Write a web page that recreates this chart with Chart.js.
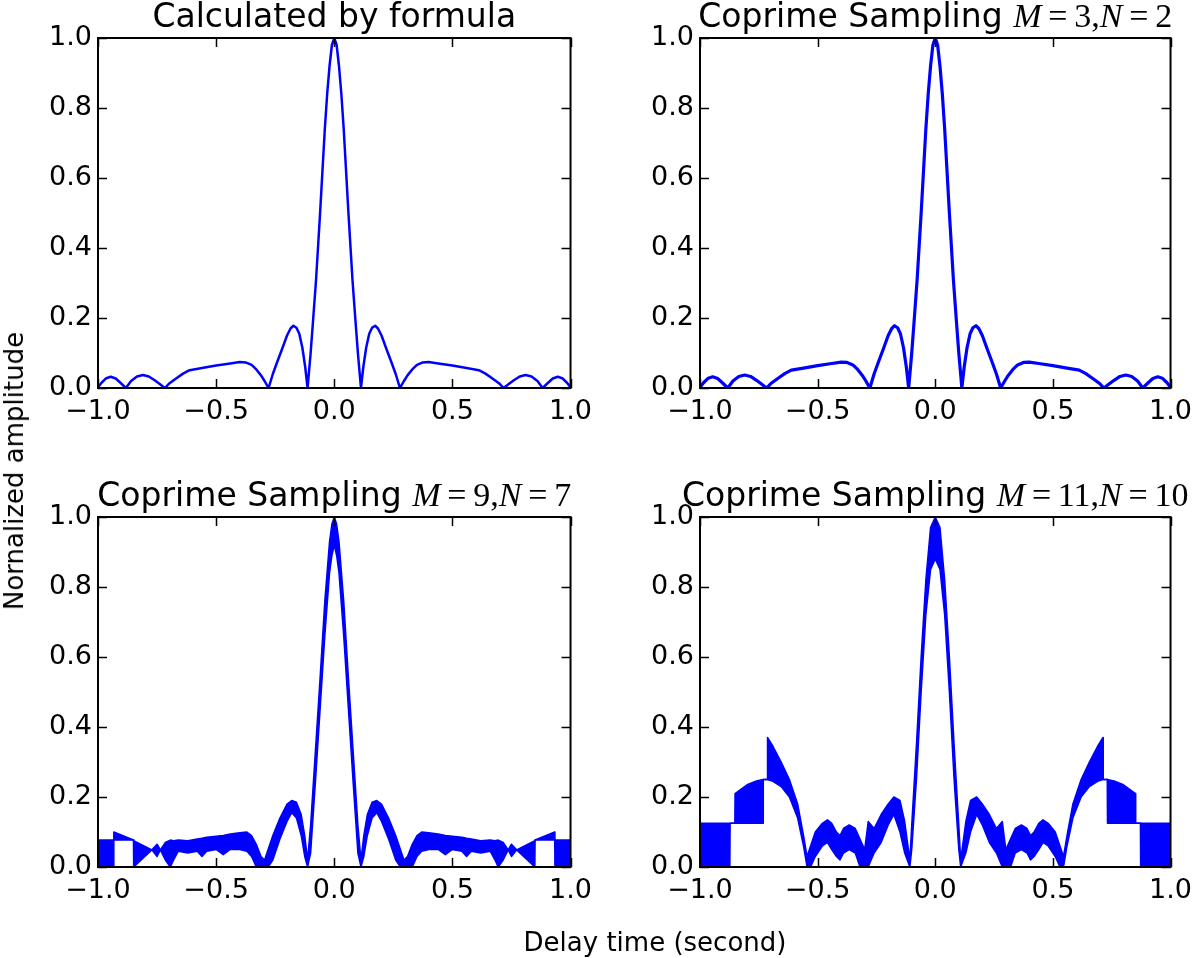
<!DOCTYPE html>
<html>
<head>
<meta charset="utf-8">
<script src="https://cdn.jsdelivr.net/npm/chart.js@4/dist/chart.umd.min.js"></script>
<style>
  body { margin: 0; width: 1200px; height: 958px; background: #fff; position: relative; overflow: hidden; font-family: "DejaVu Sans", sans-serif; }
  canvas { position: absolute; }
  .label { position: absolute; font-size: 26px; color: #000; white-space: nowrap; }
  #ylabel { left: 14px; top: 471px; transform: translate(-50%, -50%) rotate(-90deg); }
  #xlabel { left: 655px; top: 942px; transform: translate(-50%, -50%); }
</style>
</head>
<body>
<canvas id="c1" width="600" height="440" style="left:0;top:0"></canvas>
<canvas id="c2" width="600" height="440" style="left:600px;top:0"></canvas>
<canvas id="c3" width="600" height="470" style="left:0;top:470px"></canvas>
<canvas id="c4" width="600" height="470" style="left:600px;top:470px"></canvas>
<div class="label" id="ylabel">Nornalized amplitude</div>
<div class="label" id="xlabel">Delay time (second)</div>
<script>
const tickX = [-1.0, -0.5, 0.0, 0.5, 1.0];
const tickY = [0.0, 0.2, 0.4, 0.6, 0.8, 1.0];

// "Calculated by formula" (the M=3,N=2 panel shows the same curve)
const formulaX = [-1.0, -0.985, -0.965, -0.946, -0.925, -0.905, -0.882, -0.86, -0.835, -0.81,
  -0.785, -0.76, -0.74, -0.717, -0.70, -0.668, -0.64, -0.612, -0.56, -0.50,
  -0.44, -0.40, -0.375, -0.35, -0.33, -0.31, -0.295, -0.278, -0.26, -0.24,
  -0.22, -0.20, -0.185, -0.173, -0.16, -0.148, -0.135, -0.123, -0.113, -0.10,
  -0.09, -0.077, -0.06, -0.04, -0.03, -0.02, -0.01, 0,
  0.01, 0.02, 0.03, 0.04, 0.06, 0.077, 0.09, 0.10, 0.113, 0.123,
  0.135, 0.148, 0.16, 0.173, 0.185, 0.20, 0.22, 0.24, 0.26, 0.278,
  0.295, 0.31, 0.33, 0.35, 0.375, 0.40, 0.44, 0.50, 0.56, 0.612,
  0.64, 0.668, 0.70, 0.717, 0.74, 0.76, 0.785, 0.81, 0.835, 0.86,
  0.882, 0.905, 0.925, 0.946, 0.965, 0.985, 1.0];
const formulaY = [0.002, 0.015, 0.028, 0.032, 0.027, 0.015, 0, 0.020, 0.033, 0.037,
  0.033, 0.022, 0.012, 0, 0.012, 0.028, 0.041, 0.051, 0.057, 0.064,
  0.070, 0.074, 0.073, 0.066, 0.053, 0.036, 0.020, 0, 0.040, 0.077,
  0.113, 0.150, 0.170, 0.178, 0.172, 0.155, 0.115, 0.060, 0, 0.10,
  0.19, 0.31, 0.50, 0.74, 0.84, 0.92, 0.98, 1.0,
  0.98, 0.92, 0.84, 0.74, 0.50, 0.31, 0.19, 0.10, 0, 0.060,
  0.115, 0.155, 0.172, 0.178, 0.170, 0.150, 0.113, 0.077, 0.040, 0,
  0.020, 0.036, 0.053, 0.066, 0.073, 0.074, 0.070, 0.064, 0.057, 0.051,
  0.041, 0.028, 0.012, 0, 0.012, 0.022, 0.033, 0.037, 0.033, 0.020,
  0, 0.015, 0.027, 0.032, 0.028, 0.015, 0.002];

// M=9, N=7: lower and upper edge of the dense oscillation
const m9n7X = [-1.0, -0.934, -0.933, -0.85, -0.849, -0.772, -0.75, -0.736, -0.715, -0.694,
  -0.68, -0.66, -0.62, -0.58, -0.56, -0.54, -0.50, -0.47, -0.44, -0.40,
  -0.37, -0.35, -0.33, -0.31, -0.295, -0.28, -0.26, -0.23, -0.20, -0.18,
  -0.16, -0.14, -0.125, -0.113, -0.10, -0.08, -0.06, -0.04, -0.02, -0.01, 0,
  0.01, 0.02, 0.04, 0.06, 0.08, 0.10, 0.113, 0.125, 0.14, 0.16,
  0.18, 0.20, 0.23, 0.26, 0.28, 0.295, 0.31, 0.33, 0.35, 0.37,
  0.40, 0.44, 0.47, 0.50, 0.54, 0.56, 0.58, 0.62, 0.66, 0.68,
  0.694, 0.715, 0.736, 0.75, 0.772, 0.849, 0.85, 0.933, 0.934, 1.0];
const m9n7Low = [0, 0, 0.077, 0.077, 0, 0.049, 0.030, 0.049, 0.020, 0,
  0.020, 0.045, 0.040, 0.045, 0.030, 0.045, 0.050, 0.035, 0.050, 0.050,
  0.045, 0.030, 0, 0, 0, 0, 0.020, 0.080, 0.130, 0.155,
  0.140, 0.090, 0.030, 0, 0.04, 0.24, 0.45, 0.66, 0.84, 0.89, 0.92,
  0.89, 0.84, 0.66, 0.45, 0.24, 0.04, 0, 0.030, 0.090, 0.140,
  0.155, 0.130, 0.080, 0.020, 0, 0, 0, 0, 0.030, 0.045,
  0.050, 0.050, 0.035, 0.050, 0.045, 0.030, 0.045, 0.040, 0.045, 0.020,
  0, 0.020, 0.049, 0.030, 0.049, 0, 0.077, 0.077, 0, 0];
const m9n7High = [0.077, 0.077, 0.100, 0.077, 0.075, 0.049, 0.065, 0.049, 0.070, 0.077,
  0.075, 0.077, 0.075, 0.080, 0.082, 0.085, 0.088, 0.090, 0.094, 0.098,
  0.100, 0.090, 0.065, 0.030, 0.020, 0.050, 0.090, 0.140, 0.180, 0.190,
  0.185, 0.150, 0.090, 0.020, 0.12, 0.33, 0.54, 0.76, 0.93, 0.98, 1.0,
  0.98, 0.93, 0.76, 0.54, 0.33, 0.12, 0.020, 0.090, 0.150, 0.185,
  0.190, 0.180, 0.140, 0.090, 0.050, 0.020, 0.030, 0.065, 0.090, 0.100,
  0.098, 0.094, 0.090, 0.088, 0.085, 0.082, 0.080, 0.075, 0.077, 0.075,
  0.077, 0.070, 0.049, 0.065, 0.049, 0.075, 0.077, 0.100, 0.077, 0.077];

// M=11, N=10: lower and upper edge of the dense oscillation
const m11n10X = [-1.0, -0.873, -0.872, -0.852, -0.851, -0.80, -0.76, -0.732, -0.731, -0.714,
  -0.713, -0.69, -0.655, -0.62, -0.585, -0.56, -0.545, -0.53, -0.51, -0.48,
  -0.458, -0.44, -0.42, -0.405, -0.39, -0.366, -0.34, -0.32, -0.30, -0.285,
  -0.26, -0.23, -0.20, -0.176, -0.15, -0.13, -0.108, -0.10, -0.08, -0.06,
  -0.04, -0.02, 0,
  0.02, 0.04, 0.06, 0.08, 0.10, 0.108, 0.13, 0.15, 0.176, 0.20,
  0.23, 0.26, 0.285, 0.30, 0.32, 0.34, 0.366, 0.39, 0.405, 0.42,
  0.44, 0.458, 0.48, 0.51, 0.53, 0.545, 0.56, 0.585, 0.62, 0.655,
  0.69, 0.713, 0.714, 0.731, 0.732, 0.76, 0.80, 0.851, 0.852, 0.872, 0.873, 1.0];
const m11n10Low = [0, 0, 0.125, 0.125, 0.125, 0.125, 0.125, 0.125, 0.25, 0.25,
  0.25, 0.245, 0.23, 0.20, 0.14, 0.06, 0, 0, 0.03, 0.06,
  0.07, 0.05, 0.03, 0.02, 0.04, 0.05, 0.04, 0, 0, 0,
  0.04, 0.07, 0.12, 0.15, 0.10, 0.04, 0, 0.05, 0.25, 0.50,
  0.72, 0.85, 0.88,
  0.85, 0.72, 0.50, 0.25, 0.05, 0, 0.04, 0.10, 0.15, 0.12,
  0.07, 0.04, 0, 0, 0, 0.04, 0.05, 0.04, 0.02, 0.03,
  0.05, 0.07, 0.06, 0.03, 0, 0, 0.06, 0.14, 0.20, 0.23,
  0.245, 0.25, 0.25, 0.25, 0.125, 0.125, 0.125, 0.125, 0.125, 0.125, 0, 0];
const m11n10High = [0.125, 0.125, 0.125, 0.125, 0.21, 0.235, 0.246, 0.25, 0.25, 0.25,
  0.37, 0.345, 0.30, 0.25, 0.18, 0.09, 0.03, 0.06, 0.10, 0.125,
  0.135, 0.125, 0.10, 0.09, 0.11, 0.12, 0.11, 0.08, 0.05, 0.13,
  0.11, 0.15, 0.18, 0.20, 0.19, 0.13, 0.02, 0.12, 0.35, 0.60,
  0.82, 0.97, 1.0,
  0.97, 0.82, 0.60, 0.35, 0.12, 0.02, 0.13, 0.19, 0.20, 0.18,
  0.15, 0.11, 0.13, 0.05, 0.08, 0.11, 0.12, 0.11, 0.09, 0.10,
  0.125, 0.135, 0.125, 0.10, 0.06, 0.03, 0.09, 0.18, 0.25, 0.30,
  0.345, 0.37, 0.25, 0.25, 0.25, 0.246, 0.235, 0.21, 0.125, 0.125, 0.125, 0.125];

const BLUE = '#0000ff';
const TICK_FONT = { family: 'DejaVu Sans', size: 27 };
const SANS = '33px "DejaVu Sans"';
const MATH = '34px "Liberation Serif"';
const MATH_IT = 'italic 34px "Liberation Serif"';

const pts = (xs, ys) => xs.map((x, i) => ({ x, y: ys[i] }));
const fmt = v => Number(v).toFixed(1).replace('-', '\u2212');

function coprimeTitle(m, n) {
  return [
    ['Coprime Sampling ', SANS],
    ['M', MATH_IT], ['\u2009=\u2009' + m + ',', MATH],
    ['N', MATH_IT], ['\u2009=\u2009' + n, MATH]
  ];
}

// box, inward ticks on all four sides, and a title that mixes fonts
const framePlugin = {
  id: 'frame',
  afterDatasetsDraw(chart, args, opts) {
    const { ctx, chartArea: a, scales: { x, y } } = chart;
    ctx.save();
    ctx.strokeStyle = '#000';
    ctx.lineWidth = 1.5;
    ctx.beginPath();
    tickX.forEach(v => {
      const px = Math.round(x.getPixelForValue(v)) + 0.5;
      ctx.moveTo(px, a.bottom); ctx.lineTo(px, a.bottom - 9);
      ctx.moveTo(px, a.top); ctx.lineTo(px, a.top + 9);
    });
    tickY.forEach(v => {
      const py = Math.round(y.getPixelForValue(v)) + 0.5;
      ctx.moveTo(a.left, py); ctx.lineTo(a.left + 9, py);
      ctx.moveTo(a.right, py); ctx.lineTo(a.right - 9, py);
    });
    ctx.stroke();
    ctx.lineWidth = 2;
    ctx.strokeRect(a.left, a.top, a.right - a.left, a.bottom - a.top);

    const parts = opts.parts || [];
    let total = 0;
    parts.forEach(([t, f]) => { ctx.font = f; total += ctx.measureText(t).width; });
    let cx = (a.left + a.right) / 2 - total / 2;
    ctx.fillStyle = '#000';
    ctx.textBaseline = 'alphabetic';
    parts.forEach(([t, f]) => {
      ctx.font = f;
      ctx.fillText(t, cx, a.top - 11);
      cx += ctx.measureText(t).width;
    });
    ctx.restore();
  }
};

function makeChart(id, datasets, parts, pad, xHeight) {
  new Chart(document.getElementById(id), {
    type: 'line',
    data: { datasets },
    options: {
      responsive: false,
      animation: false,
      layout: { padding: { top: pad.top, right: pad.right, left: 0, bottom: 0 } },
      plugins: { legend: { display: false }, tooltip: { enabled: false }, frame: { parts } },
      elements: { point: { radius: 0 }, line: { tension: 0, borderColor: BLUE, borderJoinStyle: 'round' } },
      scales: {
        x: {
          type: 'linear', min: -1, max: 1,
          grid: { display: false, drawTicks: false }, border: { display: false },
          afterFit: s => { s.height = xHeight; },
          afterBuildTicks: s => { s.ticks = tickX.map(v => ({ value: v })); },
          ticks: { color: '#000', font: TICK_FONT, padding: 8, maxRotation: 0, callback: fmt }
        },
        y: {
          type: 'linear', min: 0, max: 1,
          grid: { display: false, drawTicks: false }, border: { display: false },
          afterFit: s => { s.width = pad.left; },
          afterBuildTicks: s => { s.ticks = tickY.map(v => ({ value: v })); },
          ticks: { color: '#000', font: TICK_FONT, padding: 6, callback: fmt }
        }
      }
    },
    plugins: [framePlugin]
  });
}

function bandSets(xs, low, high) {
  return [
    { data: pts(xs, low), borderWidth: 1.5, fill: false },
    { data: pts(xs, high), borderWidth: 1.5, fill: '-1', backgroundColor: BLUE }
  ];
}

makeChart('c1', [{ data: pts(formulaX, formulaY), borderWidth: 2.5, fill: false }],
  [['Calculated by formula', SANS]], { top: 38, right: 28, left: 98 }, 52);
makeChart('c2', [{ data: pts(formulaX, formulaY), borderWidth: 3.2, fill: false }],
  coprimeTitle(3, 2), { top: 38, right: 25, left: 100 }, 52);
makeChart('c3', bandSets(m9n7X, m9n7Low, m9n7High),
  coprimeTitle(9, 7), { top: 47, right: 28, left: 98 }, 73);
makeChart('c4', bandSets(m11n10X, m11n10Low, m11n10High),
  coprimeTitle(11, 10), { top: 47, right: 25, left: 100 }, 73);
</script>
</body>
</html>
